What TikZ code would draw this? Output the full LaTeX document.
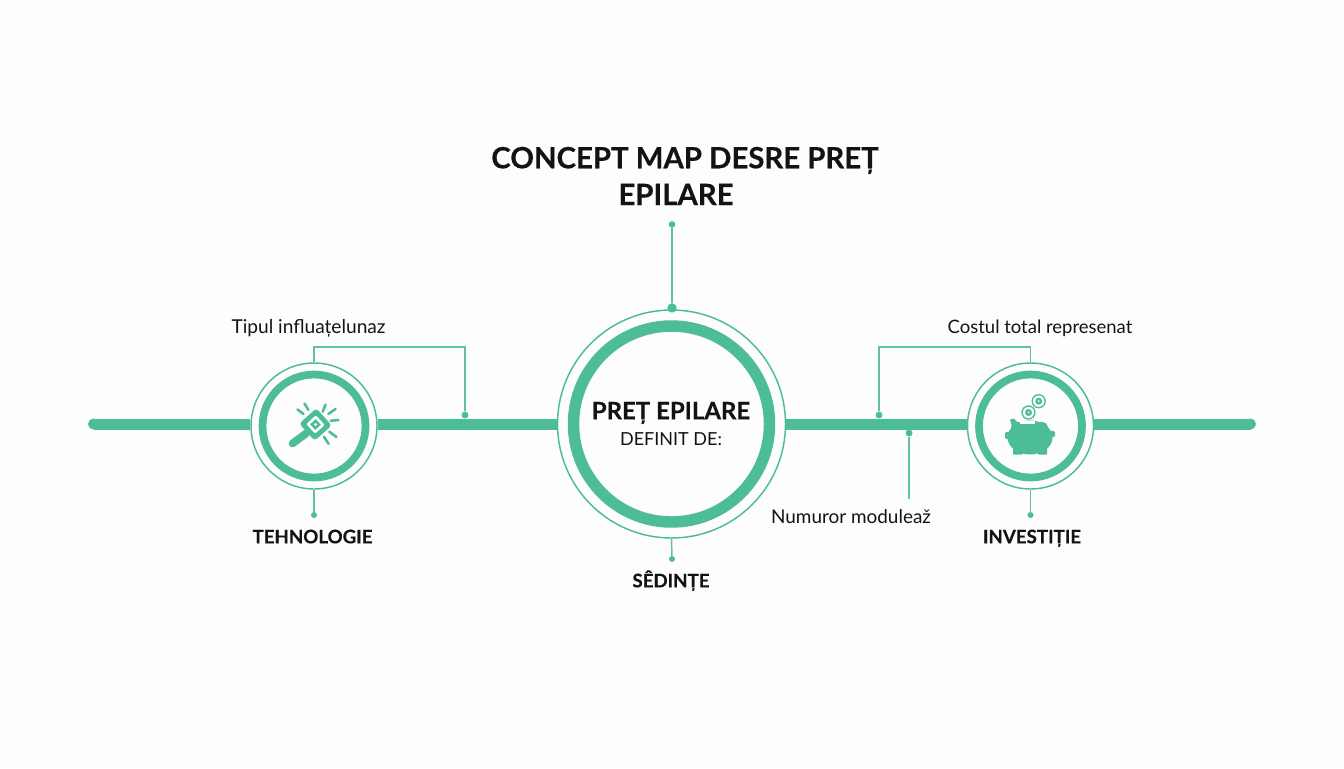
\documentclass[tikz,border=0pt]{standalone}
\usepackage{fontspec}
\setmainfont{Lato}[BoldFeatures={FakeBold=0.4}]
\definecolor{mint}{HTML}{4DBC98}
\definecolor{mintline}{HTML}{5FC0A2}
\definecolor{ink}{HTML}{111416}
\definecolor{paper}{HTML}{FDFDFD}
\newcommand{\fz}[1]{\fontsize{#1}{#1}\selectfont}
\tikzset{
  x=0.75pt,y=-0.75pt,
  bar/.style={line width=8.25pt,draw=mint},
  thin link/.style={line width=1.1pt,draw=mintline},
  thin ring/.style={circle,draw=mint,line width=1.1pt,inner sep=0pt,fill=paper},
  thick ring/.style={draw=mint,fill=paper},
  dotnode/.style={circle,fill=mint,inner sep=0pt,minimum size=#1},
  labeltext/.style={anchor=base,text=ink,inner sep=0pt,font=\fz{14.2}},
  headtext/.style={anchor=base,text=ink,inner sep=0pt,font=\fz{14}\bfseries},
  titletext/.style={anchor=base,text=ink,inner sep=0pt,font=\fz{22}\bfseries},
}
\begin{document}
\begin{tikzpicture}
\useasboundingbox (0,0) rectangle (1344,768);
\fill[paper] (0,0) rectangle (1344,768);

% rings as nodes
\node[thin ring,minimum size=171pt] (center) at (671.5,424) {};
\node[thin ring,minimum size=94.5pt] (left) at (314,426) {};
\node[thin ring,minimum size=94.5pt] (right) at (1030.5,426) {};
\draw[thick ring,line width=8.6pt] (center.center) circle (98);
\draw[thick ring,line width=5.8pt] (left.center) circle (51.5);
\draw[thick ring,line width=5.8pt] (right.center) circle (51.5);

% end points and dots
\coordinate (barL) at (93.5,424);
\coordinate (barR) at (1250.5,424);
\node[dotnode=5.2pt] (dotA) at (465,415) {};
\node[dotnode=5.2pt] (dotB) at (879,415) {};
\node[dotnode=5.2pt] (dotC) at (909,433) {};
\coordinate (endC) at (909,499);
\node[dotnode=5pt] (dotTop) at (672,224.5) {};
\node[dotnode=7pt] (dotCenter) at (672,308) {};
\node[dotnode=4.5pt] (dotBot) at (672,559) {};
\node[dotnode=4.5pt] (dotL) at (314,515) {};
\node[dotnode=4.5pt] (dotR) at (1030.5,515) {};

% bars
\fill[mint] (barL) circle (5.5);
\fill[mint] (barR) circle (5.5);
\draw[bar] (barL) -- (250,424);
\draw[bar] (barR) -- (1094,424);
\draw[bar] (377.5,424) -- (557.5,424);
\draw[bar] (785.5,424) -- (967.5,424);

% connectors
\draw[thin link] (left.north) -- ++(0,-15.5) -| (dotA);
\draw[thin link] (right.north) -- ++(0,-15.5) -| (dotB);
\draw[thin link] (dotC) -- (endC);
\draw[thin link] (dotTop) -- (dotCenter);
\draw[thin link] (center.south) -- (dotBot);
\draw[thin link] (left.south) -- (dotL);
\draw[thin link] (right.south) -- (dotR);

% flashlight icon
\draw[mint,line width=5.8pt,line cap=round] (292.5,443.5) -- (306,433.5);
\begin{scope}[shift={(315.5,424.5)},rotate=42]
  \fill[mint,rounded corners=2.5pt] (-11.5,-11.5) rectangle (11.5,11.5);
  \fill[white,rounded corners=1pt] (-6.5,-6.5) rectangle (6.5,6.5);
  \fill[mint] (-3.8,-3.8) rectangle (3.8,3.8);
  \fill[white] (-1.2,-1.2) rectangle (1.2,1.2);
\end{scope}
\draw[mint,line width=1.9pt,line cap=round]
  (297.5,409.5) -- (303.5,414)
  (304.5,403.5) -- (308.3,409.8)
  (325.6,404.5) -- (322.7,411.7)
  (335.5,409) -- (328.3,414)
  (338.5,420) -- (330.7,420.7)
  (336.5,437) -- (329.3,431.7)
  (328.6,443.8) -- (324,436.7);

% piggy bank icon
\fill[mint] (1030,437.5) ellipse (22.5 and 17);
\fill[mint,rounded corners=4pt] (1011,422) rectangle (1048,440);
\fill[mint,rounded corners=1pt] (1005,432) rectangle (1012,439);
\fill[mint,rounded corners=1pt] (1048,431) rectangle (1055,437);
\fill[mint,rounded corners=0.5pt] (1013,446) rectangle (1022.5,454.5);
\fill[mint,rounded corners=0.5pt] (1038,446) rectangle (1047,454.5);
\fill[mint] (1010,419.5) -- (1014,418.5) -- (1021,426) -- (1013,431) -- cycle;
\fill[white] (1020,420.8) rectangle (1035,424.2);
\fill[paper] (1028.5,412.5) circle (7.2);
\draw[mint,line width=1pt] (1028.5,412.5) circle (6.5);
\fill[mint] (1028.5,412.5) circle (3.5);
\fill[white] (1028.5,412.5) circle (1);
\draw[mint,line width=1pt] (1038.7,401.2) circle (6.5);
\fill[mint] (1038.7,401.2) circle (3.5);
\fill[white] (1038.7,401.2) circle (1);

% texts
\node[titletext] (title1) at (685,168.3) {CONCEPT MAP DESRE PREȚ};
\node[titletext] (title2) at (676,205) {EPILARE};
\node[anchor=base,text=ink,inner sep=0pt,font=\fz{18}\bfseries] (cname) at (671,419.3) {PREȚ EPILARE};
\node[anchor=base,text=ink,inner sep=0pt,font=\fz{13.5}] (cdef) at (671,445.7) {DEFINIT DE:};
\node[headtext] (tehn) at (312.5,543.3) {TEHNOLOGIE};
\node[headtext] (inv) at (1032,543.3) {INVESTIȚIE};
\node[headtext] (sed) at (671,587.3) {SÊDINȚE};
\node[labeltext,font=\fz{14.35}] (t1) at (308.5,333) {Tipul influațelunaz};
\node[labeltext,font=\fz{13.85}] (t2) at (1040,333) {Costul total represenat};
\node[labeltext] (t3) at (851,523) {Numuror moduleaž};
\end{tikzpicture}
\end{document}
